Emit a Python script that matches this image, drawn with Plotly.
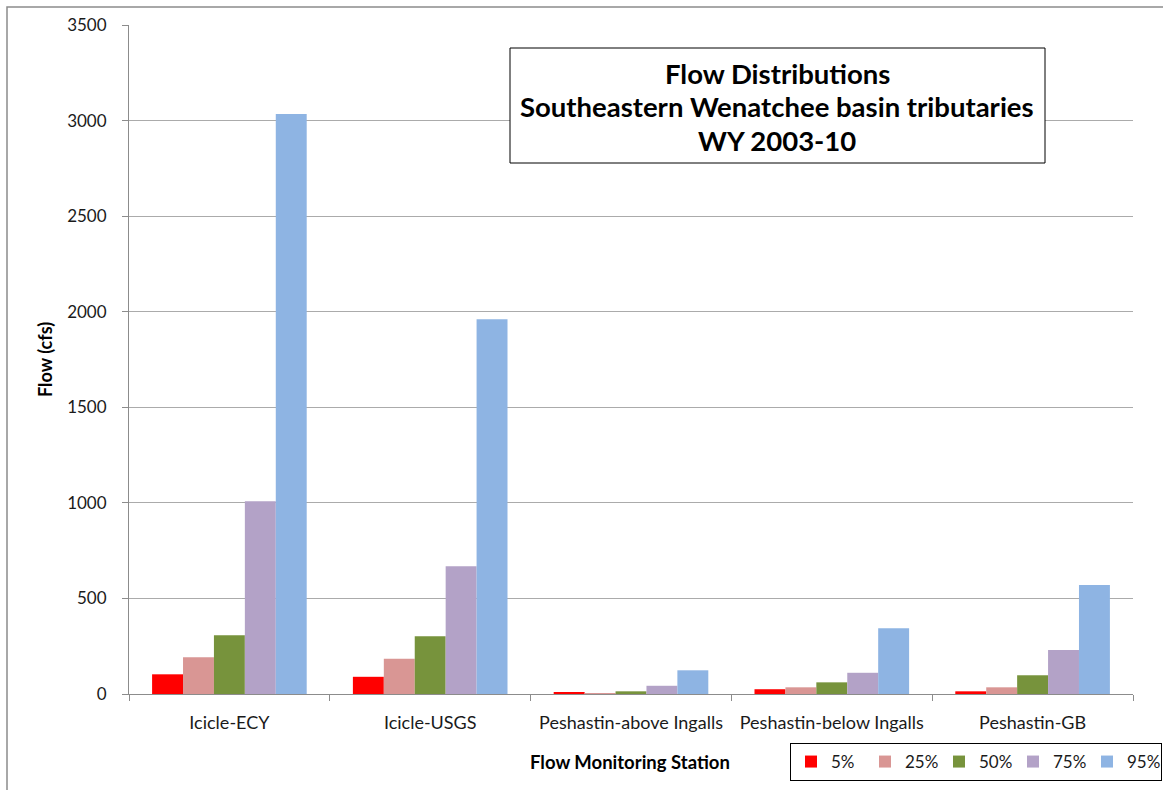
import plotly.graph_objects as go

# Flow monitoring stations (x categories)
stations = ["Icicle-ECY", "Icicle-USGS", "Peshastin-above Ingalls",
            "Peshastin-below Ingalls", "Peshastin-GB"]

# Flow exceedance percentiles (cfs) per station
flow_5 = [103, 90, 9, 25, 14]
flow_25 = [192, 185, 5, 35, 35]
flow_50 = [307, 302, 14, 61, 98]
flow_75 = [1008, 668, 43, 111, 230]
flow_95 = [3035, 1960, 124, 344, 570]

series_names = ["5%", "25%", "50%", "75%", "95%"]
series_values = [flow_5, flow_25, flow_50, flow_75, flow_95]
series_colors = ["#FF0000", "#D99694", "#77933C", "#B3A2C7", "#8EB4E3"]

y_ticks = [0, 500, 1000, 1500, 2000, 2500, 3000, 3500]

FONT = "Lato, Calibri, Carlito, sans-serif"

fig = go.Figure()
for name, vals, col in zip(series_names, series_values, series_colors):
    fig.add_trace(go.Bar(x=stations, y=vals, name=name,
                         marker=dict(color=col, line=dict(width=0))))

W, H = 1163, 790
L, R, T, B = 129, 30, 25, 96
pw, ph = W - L - R, H - T - B


def px(x):
    return (x - L) / pw


def py(y):
    return (H - B - y) / ph


fig.update_layout(
    width=W, height=H,
    margin=dict(l=L, r=R, t=T, b=B, pad=0, autoexpand=False),
    paper_bgcolor="white", plot_bgcolor="white",
    barmode="group", bargap=0.23, bargroupgap=0,
    font=dict(family=FONT, size=15, color="#1a1a1a"),
    showlegend=True,
    legend=dict(orientation="h", x=px(790), y=py(743), xanchor="left", yanchor="top",
                bordercolor="#000000", borderwidth=1, bgcolor="white",
                font=dict(family=FONT, size=17, color="#1a1a1a"),
                entrywidth=29, entrywidthmode="pixels",
                itemsizing="constant", traceorder="normal"),
    xaxis=dict(type="category", showgrid=False, showline=True,
               linecolor="#8c8c8c", linewidth=1, automargin=False, tickangle=0,
               ticks="outside", tickson="boundaries", ticklen=6,
               tickcolor="#8c8c8c", ticklabelstandoff=12,
               tickfont=dict(family=FONT, size=18, color="#1a1a1a"),
               zeroline=False),
    yaxis=dict(range=[0, 3500], tickvals=y_ticks, showgrid=True,
               gridcolor="#ababab", gridwidth=1, automargin=False,
               showline=True, linecolor="#8c8c8c", linewidth=1,
               ticks="outside", ticklen=6, tickcolor="#8c8c8c",
               ticklabelstandoff=12,
               tickfont=dict(family=FONT, size=17, color="#1a1a1a"),
               zeroline=False),
)

shapes = [
    # outer chart frame
    dict(type="rect", xref="paper", yref="paper",
         x0=px(7), x1=px(1175), y0=py(800), y1=py(7),
         line=dict(color="#8c8c8c", width=1.5), fillcolor="rgba(0,0,0,0)",
         layer="below"),
    # title box
    dict(type="rect", xref="paper", yref="paper",
         x0=px(510), x1=px(1045), y0=py(163), y1=py(48),
         line=dict(color="#000000", width=1), fillcolor="white", layer="above"),
]

title_lines = ["Flow Distributions", "Southeastern Wenatchee basin tributaries", "WY 2003-10"]
title_y = [73, 106, 140]
annotations = []
for txt, yy in zip(title_lines, title_y):
    annotations.append(dict(text=f"<b>{txt}</b>", xref="paper", yref="paper",
                            x=px(777), y=py(yy), xanchor="center", yanchor="middle",
                            showarrow=False,
                            font=dict(family=FONT, size=27.5, color="#000000")))

annotations.append(dict(text="<b>Flow (cfs)</b>", xref="paper", yref="paper",
                        x=px(45), y=py(360), xanchor="center", yanchor="middle",
                        textangle=-90, showarrow=False,
                        font=dict(family=FONT, size=18, color="#000000")))
annotations.append(dict(text="<b>Flow Monitoring Station</b>", xref="paper", yref="paper",
                        x=px(630), y=py(762), xanchor="center", yanchor="middle",
                        showarrow=False,
                        font=dict(family=FONT, size=18.5, color="#000000")))

fig.update_layout(shapes=shapes, annotations=annotations)

fig.write_html("out.html")
